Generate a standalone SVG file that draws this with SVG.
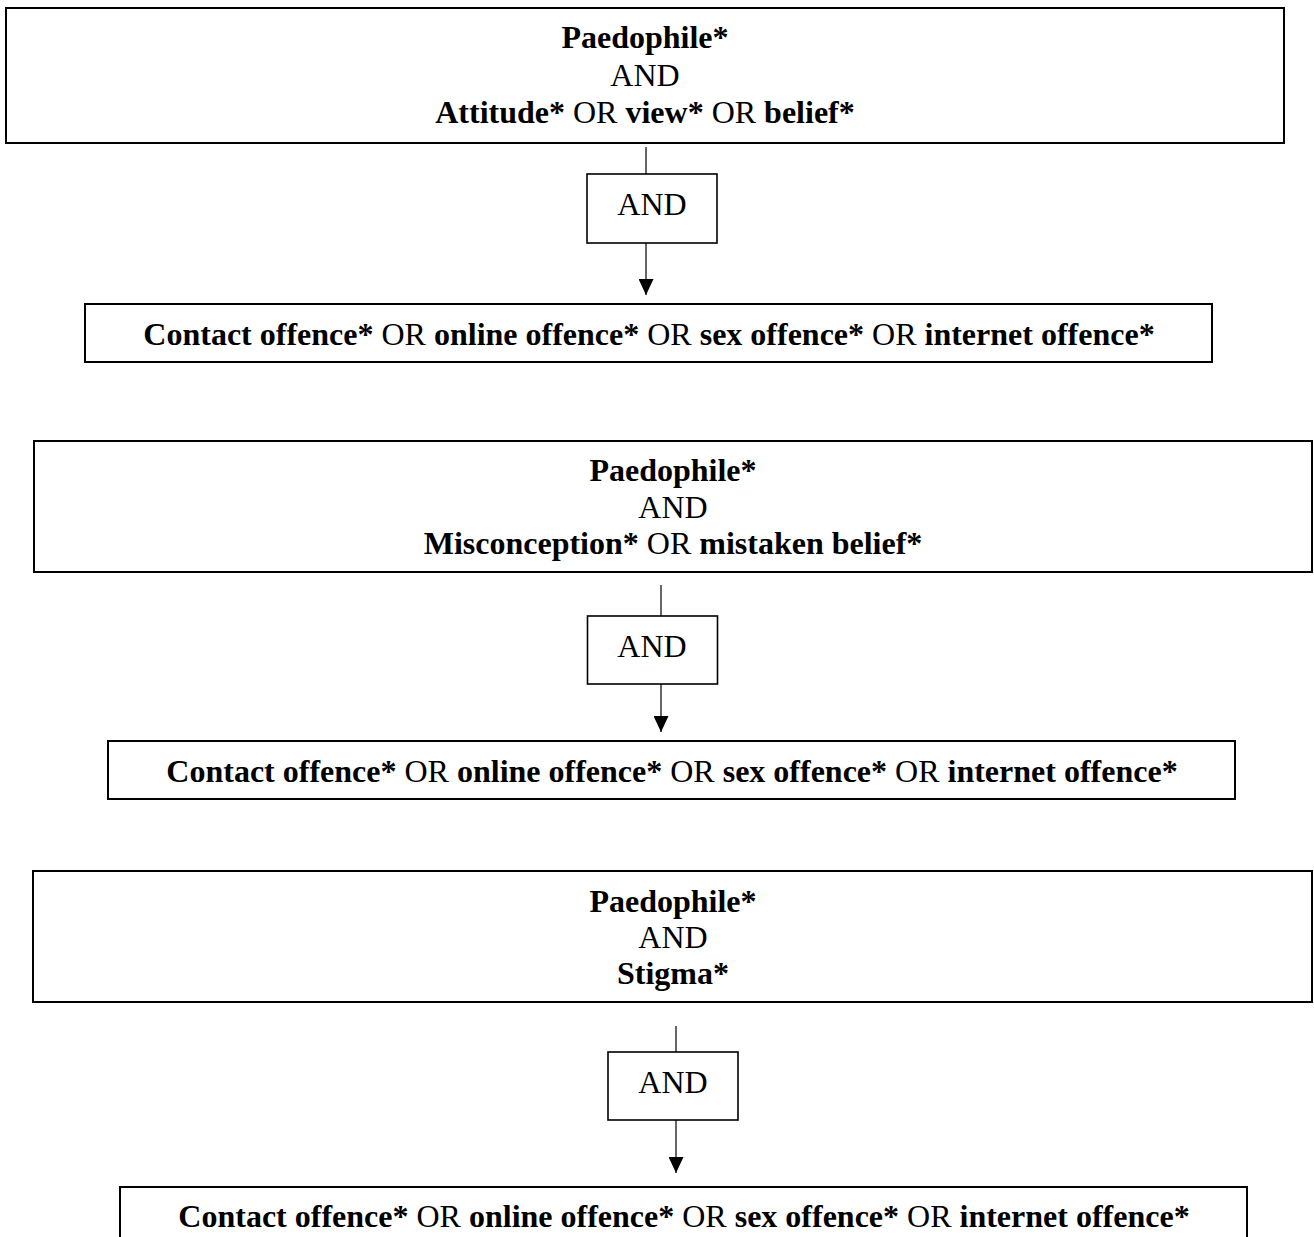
<svg xmlns="http://www.w3.org/2000/svg" width="1314" height="1237" viewBox="0 0 1314 1237">
<style>
.box{fill:#fff;stroke:#000;stroke-width:2}
.and{fill:#fff;stroke:#000;stroke-width:1.6}
.ln{stroke:#000;stroke-width:1.2;fill:none}
text{font-family:"Liberation Serif","Times New Roman",serif;font-size:32px;fill:#000;text-anchor:middle}
.b{font-weight:bold}
</style>
<defs>
<marker id="arr" markerUnits="userSpaceOnUse" markerWidth="16" markerHeight="15" viewBox="0 0 16 15" refX="16" refY="7.5" orient="auto">
<path d="M0,0 L16,7.5 L0,15 z" fill="#000"/>
</marker>
</defs>
<rect width="1314" height="1237" fill="#fff"/>
<g id="connectors">
<line class="ln" x1="646" y1="147" x2="646" y2="174"/>
<line class="ln" x1="646" y1="243" x2="646" y2="295" marker-end="url(#arr)"/>
<line class="ln" x1="661" y1="585" x2="661" y2="616"/>
<line class="ln" x1="661" y1="684" x2="661" y2="732" marker-end="url(#arr)"/>
<line class="ln" x1="676" y1="1026" x2="676" y2="1052"/>
<line class="ln" x1="676" y1="1120" x2="676" y2="1173" marker-end="url(#arr)"/>
</g>
<g id="query1">
<rect class="box" x="6" y="8" width="1278" height="135"/>
<text x="645" y="48" class="b">Paedophile*</text>
<text x="645" y="86">AND</text>
<text x="645" y="122.5"><tspan class="b">Attitude*</tspan> OR <tspan class="b">view*</tspan> OR <tspan class="b">belief*</tspan></text>
</g>
<g id="and1">
<rect class="and" x="587" y="174" width="130" height="69"/>
<text x="652" y="215">AND</text>
</g>
<g id="offence1">
<rect class="box" x="85" y="304" width="1127" height="58"/>
<text x="649" y="345"><tspan class="b">Contact offence*</tspan> OR <tspan class="b">online offence*</tspan> OR <tspan class="b">sex offence*</tspan> OR <tspan class="b">internet offence*</tspan></text>
</g>
<g id="query2">
<rect class="box" x="34" y="441" width="1278" height="131"/>
<text x="673" y="481" class="b">Paedophile*</text>
<text x="673" y="517.5">AND</text>
<text x="673" y="554"><tspan class="b">Misconception*</tspan> OR <tspan class="b">mistaken belief*</tspan></text>
</g>
<g id="and2">
<rect class="and" x="587.5" y="616" width="130" height="68"/>
<text x="652" y="656.5">AND</text>
</g>
<g id="offence2">
<rect class="box" x="108" y="741" width="1127" height="58"/>
<text x="672" y="782"><tspan class="b">Contact offence*</tspan> OR <tspan class="b">online offence*</tspan> OR <tspan class="b">sex offence*</tspan> OR <tspan class="b">internet offence*</tspan></text>
</g>
<g id="query3">
<rect class="box" x="33" y="871" width="1279" height="131"/>
<text x="673" y="911.5" class="b">Paedophile*</text>
<text x="673" y="948">AND</text>
<text x="673" y="984" class="b">Stigma*</text>
</g>
<g id="and3">
<rect class="and" x="608" y="1052" width="130" height="68"/>
<text x="673" y="1092.5">AND</text>
</g>
<g id="offence3">
<rect class="box" x="120" y="1187" width="1127" height="70"/>
<text x="684" y="1227"><tspan class="b">Contact offence*</tspan> OR <tspan class="b">online offence*</tspan> OR <tspan class="b">sex offence*</tspan> OR <tspan class="b">internet offence*</tspan></text>
</g>
</svg>
